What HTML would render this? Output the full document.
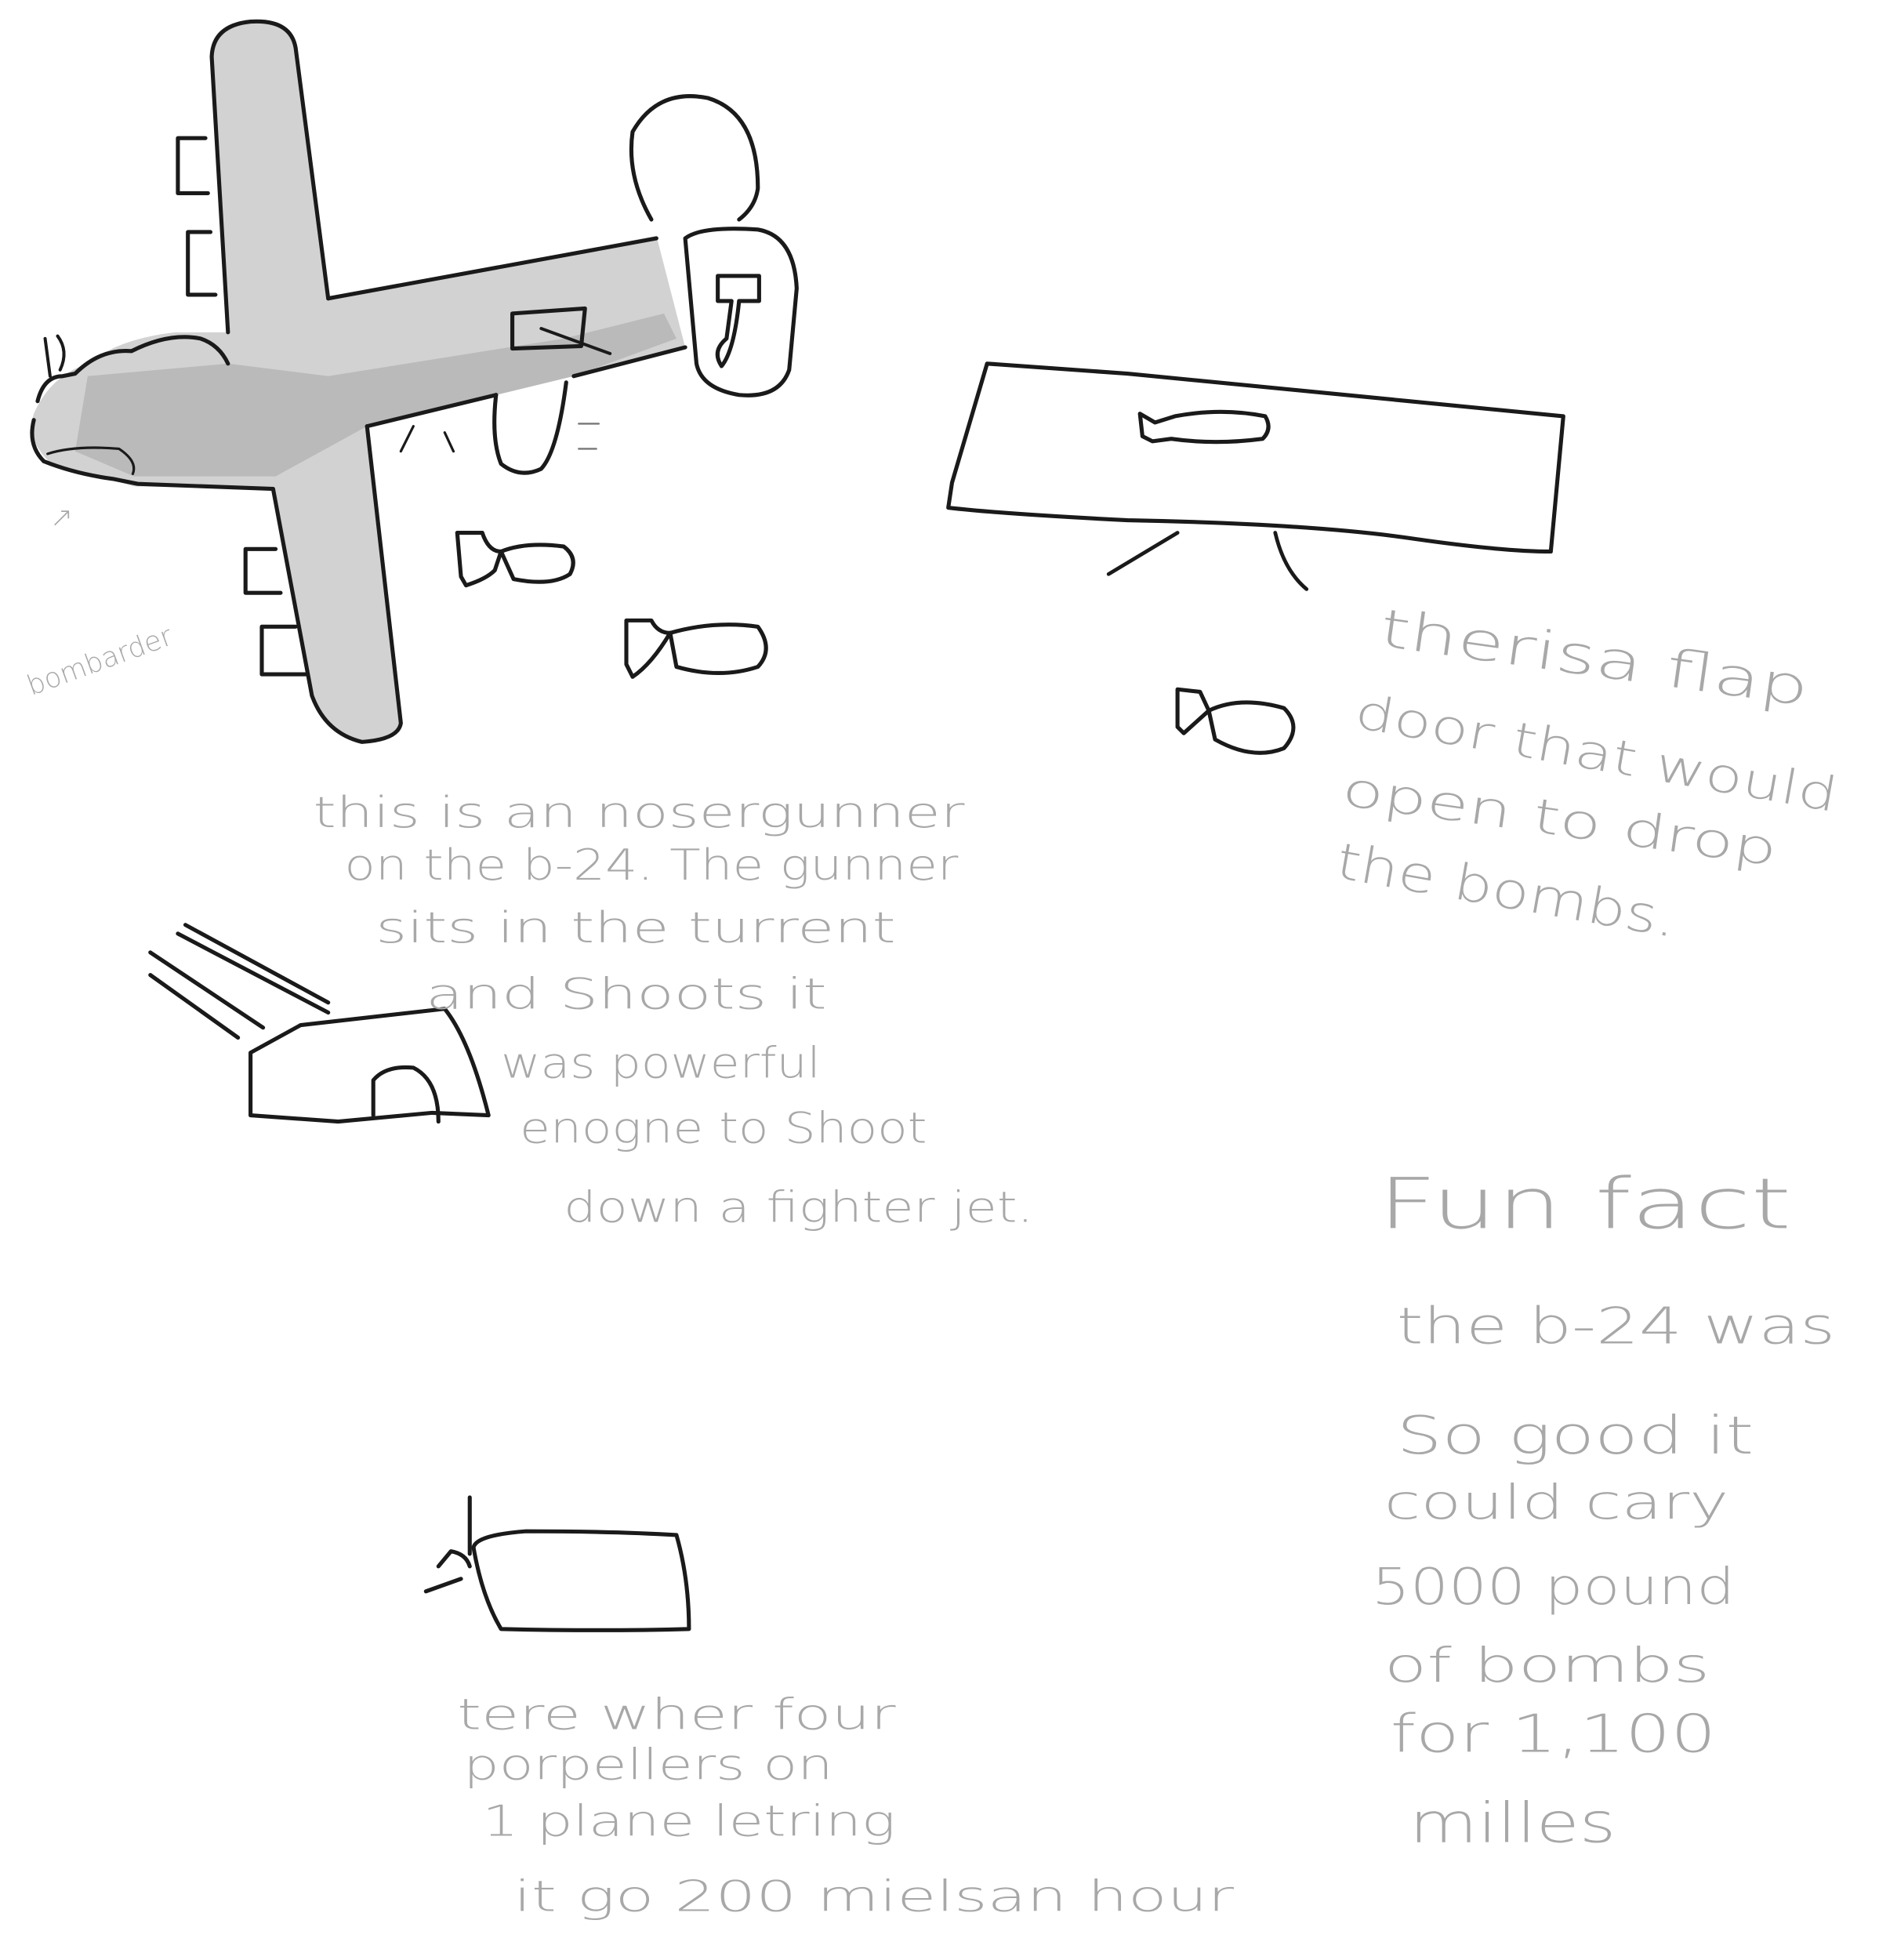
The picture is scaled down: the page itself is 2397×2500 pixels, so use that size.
<!DOCTYPE html>
<html><head><style>html,body{margin:0;padding:0;background:#fff}svg{display:block}
text{font-family:"DejaVu Sans","Liberation Sans",sans-serif;fill:#a8a8a8;font-weight:300}</style></head>
<body>
<svg width="2397" height="2500" viewBox="0 0 1500 1564" xmlns="http://www.w3.org/2000/svg">
<g fill="none" stroke="#1a1a1a" stroke-width="3.2" stroke-linecap="round" stroke-linejoin="round">
<!-- plane fill -->
<path d="M200,17 Q232,15 236,38 L262,238 L524,188 L547,277 L458,300 L293,340 L320,577 Q315,592 289,592 Q255,580 249,558 L218,390 L107,388 L40,369 Q20,350 27,330 Q40,300 70,290 Q95,270 140,265 L182,265 L169,38 Q175,17 200,17 Z" fill="#d2d2d2" stroke="none"/>
<path d="M70,300 L182,290 L262,300 L450,270 L530,250 L540,270 L458,300 L293,340 L220,380 L107,380 L60,360 Z" fill="#b4b4b4" stroke="none" opacity="0.8"/>
<!-- wing upper -->
<path d="M182,265 L169,45 Q170,20 200,17 Q232,15 236,38 L262,238"/>
<!-- fuselage top -->
<path d="M262,238 L524,190"/>
<path d="M30,320 Q35,300 50,300 L60,298 Q80,278 105,280 Q135,265 160,270 Q175,275 182,290"/>
<path d="M40,300 L36,270 M48,295 Q55,280 46,268" stroke-width="2.5"/>
<path d="M27,335 Q22,355 35,368 Q60,378 90,382 L110,386 L218,390"/>
<path d="M38,362 Q60,355 95,358 Q110,368 106,378" stroke-width="2"/>
<!-- fuselage bottom to lower wing -->
<path d="M547,277 L458,300"/>
<path d="M293,340 L396,315"/>
<!-- lower wing -->
<path d="M218,390 L249,555 Q260,585 289,592 Q318,590 320,577 L293,340"/>
<!-- fin bump -->
<path d="M396,315 Q392,350 400,370 Q415,382 432,374 Q445,360 452,305"/>
<path d="M462,338 L478,338 M462,358 L476,358" stroke-width="1.5" stroke="#777"/>
<path d="M320,360 L330,340 M355,345 L362,360" stroke-width="2"/>
<!-- engine pods -->
<path d="M164,110 L142,110 L142,154 L166,154"/><path d="M168,185 L150,185 L150,235 L172,235"/>
<path d="M220,438 L196,438 L196,473 L224,473"/><path d="M236,500 L209,500 L209,538 L244,538"/>
<!-- tail -->
<path d="M520,175 Q500,140 505,105 Q525,70 565,78 Q605,90 605,150 Q603,165 590,175"/>
<path d="M547,190 Q560,180 605,183 Q634,188 636,230 L630,295 Q622,318 590,315 Q560,310 556,290 Z" fill="#fff"/>
<path d="M573,220 L606,220 L606,240 L590,240 Q586,280 576,292 Q568,280 580,270 L584,240 L573,240 Z"/>
<path d="M409,250 L467,246 L464,276 L409,278 Z"/><path d="M432,262 L487,282" stroke-width="2.5"/>
<!-- bombs -->
<path d="M365,425 L385,425 Q390,440 400,440 L395,455 Q388,462 372,467 L368,460 Z"/>
<path d="M400,440 Q420,432 450,436 Q462,445 455,458 Q440,468 410,462 Z"/>
<path d="M500,495 L520,495 Q525,505 535,505 Q520,530 505,540 L500,530 Z"/>
<path d="M535,505 Q570,495 605,500 Q618,518 605,532 Q575,542 540,532 Z"/>
<path d="M940,550 L958,552 L965,567 L945,585 L940,580 Z"/><path d="M965,567 Q990,555 1025,565 Q1040,580 1025,597 Q1000,607 970,590 Z"/>
<!-- bomb bay -->
<path d="M788,290 L760,385 L757,405 Q800,410 900,415 Q1050,418 1130,430 Q1200,440 1238,440 L1248,332 Q1100,318 900,298 Z"/>
<path d="M910,330 L922,337 L938,332 Q975,325 1010,332 Q1016,342 1008,350 Q970,355 935,350 L920,352 L912,348 Z"/>
<path d="M885,458 L940,425 M1018,425 Q1025,455 1043,470" stroke-width="3"/>
<!-- turret -->
<path d="M120,760 L210,820 M120,778 L190,828 M142,745 L262,808 M148,738 L262,800"/>
<path d="M200,840 L240,818 L355,805 Q375,830 390,890 L345,888 L270,895 L200,890 Z"/>
<path d="M298,890 L298,862 Q308,850 330,852 Q350,862 350,895"/>
<!-- propeller -->
<path d="M375,1195 L375,1240 M350,1250 L360,1238 Q372,1240 375,1250 M340,1270 L368,1260"/>
<path d="M378,1235 Q380,1225 420,1222 Q490,1222 540,1225 Q550,1260 550,1300 Q480,1302 400,1300 Q385,1275 378,1235 Z"/>
</g>
<text x="25" y="555" font-size="22" transform="rotate(-20 25 555)">bombarder</text>
<text x="40" y="420" font-size="22">↗</text>
<g font-size="34" lengthAdjust="spacingAndGlyphs">
<text x="250" y="660" textLength="520" lengthAdjust="spacingAndGlyphs">this is an  nosergunner</text>
<text x="275" y="702" textLength="490" lengthAdjust="spacingAndGlyphs">on the b-24. The gunner</text>
<text x="300" y="752" textLength="415" lengthAdjust="spacingAndGlyphs">sits in the turrent</text>
<text x="340" y="805" textLength="320" lengthAdjust="spacingAndGlyphs">and  Shoots it</text>
<text x="400" y="860" textLength="255" lengthAdjust="spacingAndGlyphs">was powerful</text>
<text x="415" y="912" textLength="325" lengthAdjust="spacingAndGlyphs">enogne to Shoot</text>
<text x="450" y="975" textLength="375" lengthAdjust="spacingAndGlyphs">down a fighter jet.</text>
<text x="1100" y="515" transform="rotate(8 1100 515)" font-size="42" textLength="345" lengthAdjust="spacingAndGlyphs">therisa flap</text>
<text x="1080" y="580" transform="rotate(10 1080 580)" font-size="38" textLength="390" lengthAdjust="spacingAndGlyphs">door that would</text>
<text x="1070" y="642" transform="rotate(8 1070 642)" font-size="38" textLength="350" lengthAdjust="spacingAndGlyphs">open to drop</text>
<text x="1065" y="700" transform="rotate(10 1065 700)" font-size="40" textLength="275" lengthAdjust="spacingAndGlyphs">the bombs.</text>
<text x="1100" y="980" font-size="56" textLength="330" lengthAdjust="spacingAndGlyphs">Fun fact</text>
<text x="1115" y="1072" font-size="40" textLength="350" lengthAdjust="spacingAndGlyphs">the b-24 was</text>
<text x="1115" y="1160" font-size="42" textLength="285" lengthAdjust="spacingAndGlyphs">So good it</text>
<text x="1105" y="1212" font-size="38" textLength="275" lengthAdjust="spacingAndGlyphs">could cary</text>
<text x="1095" y="1280" font-size="40" textLength="290" lengthAdjust="spacingAndGlyphs">5000 pound</text>
<text x="1105" y="1342" font-size="38" textLength="260" lengthAdjust="spacingAndGlyphs">of bombs</text>
<text x="1110" y="1398" font-size="42" textLength="260" lengthAdjust="spacingAndGlyphs">for 1,100</text>
<text x="1125" y="1470" font-size="44" textLength="165" lengthAdjust="spacingAndGlyphs">milles</text>
<text x="365" y="1380" textLength="350" lengthAdjust="spacingAndGlyphs">tere wher four</text>
<text x="370" y="1420" textLength="295" lengthAdjust="spacingAndGlyphs">porpellers on</text>
<text x="385" y="1465" textLength="330" lengthAdjust="spacingAndGlyphs">1 plane letring</text>
<text x="410" y="1525" textLength="575" lengthAdjust="spacingAndGlyphs">it go 200 mielsan hour</text>
</g>
</svg>
</body></html>
